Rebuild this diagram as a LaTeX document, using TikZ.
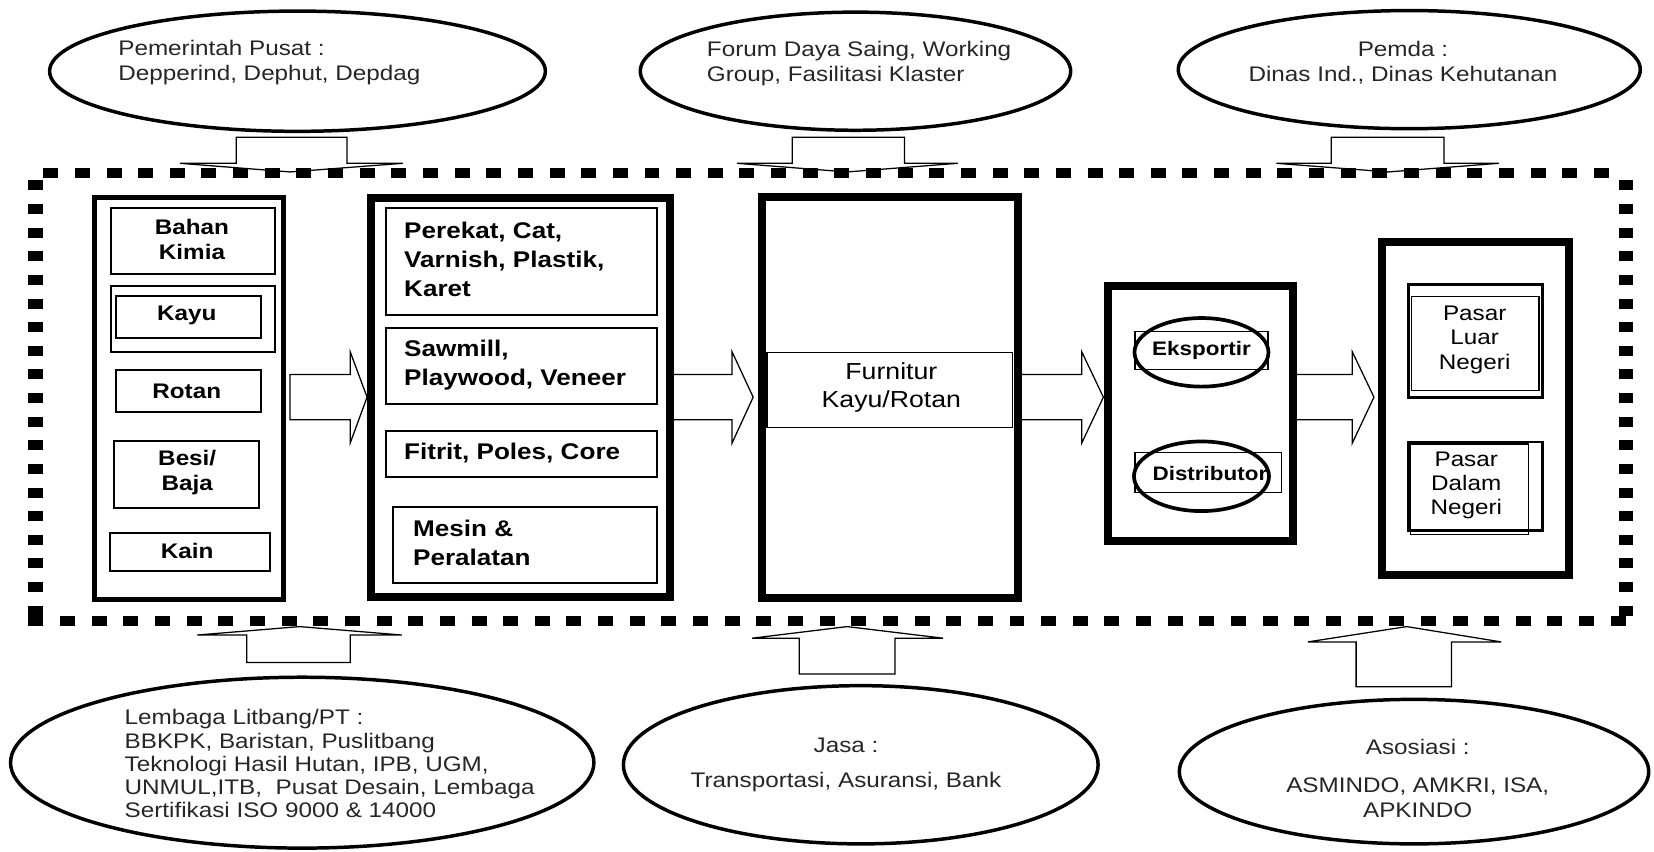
\documentclass[tikz,border=0pt]{standalone}
\usepackage{fontspec}
\setmainfont{Liberation Sans}[FakeStretch=1.15]
\usetikzlibrary{shapes.geometric}
\begin{document}
\begin{tikzpicture}[x=1pt,y=-1pt,
  oval/.style={draw, ellipse, line width=3.3pt, inner sep=0pt},
  bigbox/.style={draw, rectangle, line width=7.5pt, inner sep=0pt},
  midbox/.style={draw, rectangle, line width=4.7pt, inner sep=0pt},
  inbox/.style={draw, rectangle, line width=1.9pt, inner sep=0pt},
  thinbox/.style={draw, rectangle, line width=1.3pt, inner sep=0pt},
  pbox/.style={draw, rectangle, line width=2.5pt, inner sep=0pt},
  blockarrow/.style={draw, line width=1.2pt, fill=white, line join=miter},
  frameh/.style={line width=9.5pt, dash pattern=on 14.2pt off 15.8pt},
  framev/.style={line width=14pt, dash pattern=on 9.5pt off 12.9pt},
  etext/.style={font=\fontsize{20}{23.7}\selectfont, inner sep=0pt, text=black!85},
  boldtext/.style={font=\bfseries\fontsize{21.5}{27.5}\selectfont, inner sep=0pt, align=left},
  ctext/.style={font=\bfseries\fontsize{20}{23.7}\selectfont, inner sep=0pt, align=center},
  ptext/.style={font=\fontsize{20}{23}\selectfont, inner sep=0pt, align=center},
]
\useasboundingbox (0,0) rectangle (1568,807);

% top ellipses
\node[oval, minimum width=470pt, minimum height=114pt] (e1) at (282,67.5) {};
\node[oval, minimum width=408pt, minimum height=112pt] (e2) at (811,67.5) {};
\node[oval, minimum width=438pt, minimum height=112pt] (e3) at (1336,66) {};
\node[etext, anchor=west, align=left] (t1) at (112,59) {Pemerintah Pusat :\\Depperind, Dephut, Depdag};
\node[etext, anchor=west, align=left] (t2) at (670,60.5) {Forum Daya Saing, Working\\Group, Fasilitasi Klaster};
\node[etext, align=center] (t3) at (1330,59) {Pemda :\\Dinas Ind., Dinas Kehutanan};

% bottom ellipses
\node[oval, minimum width=553pt, minimum height=162pt] (l1) at (286.5,723) {};
\node[oval, minimum width=450pt, minimum height=150pt] (l2) at (816,725) {};
\node[oval, minimum width=445pt, minimum height=137pt] (l3) at (1340.5,731.5) {};
\node[etext, anchor=west, align=left, font=\fontsize{20}{22}\selectfont] (t4) at (118,724)
  {Lembaga Litbang/PT :\\BBKPK, Baristan, Puslitbang\\Teknologi Hasil Hutan, IPB, UGM,\\UNMUL,ITB,\ \ Pusat Desain, Lembaga\\Sertifikasi ISO 9000 \& 14000};
\node[etext, align=center] (t5) at (802,725) {Jasa :\\[10pt]Transportasi, Asuransi, Bank};
\node[etext, align=center] (t6) at (1344,738) {Asosiasi :\\[13pt]ASMINDO, AMKRI, ISA,\\APKINDO};

% top block arrows (pointing down)
\draw[blockarrow] (224,130) -- (329,130) -- (329,154.8) -- (382,154.8) -- (275,163) -- (170.6,154.8) -- (224,154.8) -- cycle;
\draw[blockarrow] (751,130) -- (857.5,130) -- (857.5,154.8) -- (908,154.8) -- (803,163) -- (698.6,154.8) -- (751,154.8) -- cycle;
\draw[blockarrow] (1262,130) -- (1369,130) -- (1369,154.8) -- (1421,154.8) -- (1316,163) -- (1210,154.8) -- (1262,154.8) -- cycle;

% bottom block arrows (pointing up)
\draw[blockarrow] (234,628) -- (332,628) -- (332,602) -- (381,602) -- (284,594) -- (187,602) -- (234,602) -- cycle;
\draw[blockarrow] (757.6,639) -- (848.4,639) -- (848.4,605) -- (894,605) -- (803,594) -- (713,605) -- (757.6,605) -- cycle;
\draw[blockarrow] (1285.6,651) -- (1376,651) -- (1376,608.5) -- (1423,608.5) -- (1333.5,594) -- (1240,608.5) -- (1285.6,608.5) -- cycle;

% dashed frame
\draw[frameh] (41,164) -- (1534,164);
\draw[frameh] (27,589) -- (1548,589);
\draw[framev] (34,171) -- (34,594);
\draw[framev] (1541.5,171) -- (1541.5,594);

% horizontal block arrows
\draw[blockarrow] (275,355) -- (332,355) -- (332,333.5) -- (348,376.5) -- (332,420) -- (332,398) -- (275,398) -- cycle;
\draw[blockarrow] (636,355) -- (694,355) -- (694,333.5) -- (714,376.5) -- (694,420) -- (694,398) -- (636,398) -- cycle;
\draw[blockarrow] (966,355) -- (1025.5,355) -- (1025.5,333.5) -- (1046,376.5) -- (1025.5,420) -- (1025.5,398) -- (966,398) -- cycle;
\draw[blockarrow] (1226,355) -- (1282,355) -- (1282,333.5) -- (1302.5,376.5) -- (1282,420) -- (1282,398) -- (1226,398) -- cycle;

% main boxes
\node[midbox, minimum width=179pt, minimum height=381pt] (b1) at (179.5,377.5) {};
\node[bigbox, minimum width=283pt, minimum height=378pt] (b2) at (493.5,377) {};
\node[bigbox, minimum width=243pt, minimum height=380pt] (b3) at (843.5,377) {};
\node[bigbox, minimum width=176pt, minimum height=242pt] (b4) at (1138,392) {};
\node[bigbox, minimum width=177pt, minimum height=316pt] (b5) at (1398.5,387) {};

% box 1 contents
\node[inbox, minimum width=156pt, minimum height=63pt] (bk) at (183,228.5) {};
\node[ctext] (bkt) at (182,227) {Bahan\\Kimia};
\node[inbox, minimum width=156pt, minimum height=63pt] (kayuo) at (183,302.5) {};
\node[inbox, minimum width=137pt, minimum height=39pt] (kayui) at (178.5,300.5) {};
\node[ctext] (kayut) at (177,299) {Kayu};
\node[inbox, minimum width=137pt, minimum height=40pt] (rotan) at (178.5,371) {};
\node[ctext] (rotant) at (177,371) {Rotan};
\node[inbox, minimum width=138pt, minimum height=64pt] (besi) at (177,450) {};
\node[ctext] (besit) at (177.5,448) {Besi/\\Baja};
\node[inbox, minimum width=152pt, minimum height=36pt] (kain) at (180,523) {};
\node[ctext] (kaint) at (177.5,522) {Kain};

% box 2 contents
\node[inbox, minimum width=257pt, minimum height=102pt] (perekat) at (494.5,248) {};
\node[boldtext, anchor=west] (perekatt) at (383,245.5) {Perekat, Cat,\\Varnish, Plastik,\\Karet};
\node[inbox, minimum width=257pt, minimum height=72pt] (sawmill) at (494.5,347) {};
\node[boldtext, anchor=west] (sawmillt) at (383,346) {Sawmill,\\Playwood, Veneer};
\node[inbox, minimum width=257pt, minimum height=43pt] (fitrit) at (494.5,430.5) {};
\node[boldtext, anchor=west] (fitritt) at (383,429.5) {Fitrit, Poles, Core};
\node[inbox, minimum width=250pt, minimum height=72pt] (mesin) at (498,517) {};
\node[boldtext, anchor=west] (mesint) at (391.5,515) {Mesin \&\\Peralatan};

% box 3 contents
\node[thinbox, minimum width=233pt, minimum height=71pt] (furn) at (843.5,369.5) {};
\node[inner sep=0pt, align=center, font=\fontsize{22}{27}\selectfont] (furnt) at (845,367.5) {Furnitur\\Kayu/Rotan};

% box 4 contents
\node[thinbox, minimum width=126pt, minimum height=36pt] (eksr) at (1139,332) {};
\node[oval, line width=3.5pt, minimum width=127pt, minimum height=65pt] (ekse) at (1139,334) {};
\node[inner sep=0pt, font=\bfseries\fontsize{18.5}{22}\selectfont] (ekst) at (1139,332) {Eksportir};
\node[thinbox, minimum width=139pt, minimum height=38pt] (disr) at (1145.5,448) {};
\node[oval, line width=3.5pt, minimum width=128pt, minimum height=66pt] (dise) at (1139,451.5) {};
\node[inner sep=0pt, font=\bfseries\fontsize{18.5}{22}\selectfont] (dist) at (1147,449) {Distributor};

% box 5 contents
\node[pbox, minimum width=127pt, minimum height=107pt] (luar) at (1398.5,323.5) {};
\node[thinbox, line width=1.2pt, minimum width=121pt, minimum height=89pt] (luari) at (1398.5,325.5) {};
\node[ptext] (luart) at (1398,322) {Pasar\\Luar\\Negeri};
\node[thinbox, line width=1.2pt, minimum width=112pt, minimum height=86pt] (dalamb) at (1393,464) {};
\node[pbox, minimum width=127pt, minimum height=84pt] (dalam) at (1398.5,461) {};
\node[ptext] (dalamt) at (1390,460) {Pasar\\Dalam\\Negeri};
\end{tikzpicture}
\end{document}
